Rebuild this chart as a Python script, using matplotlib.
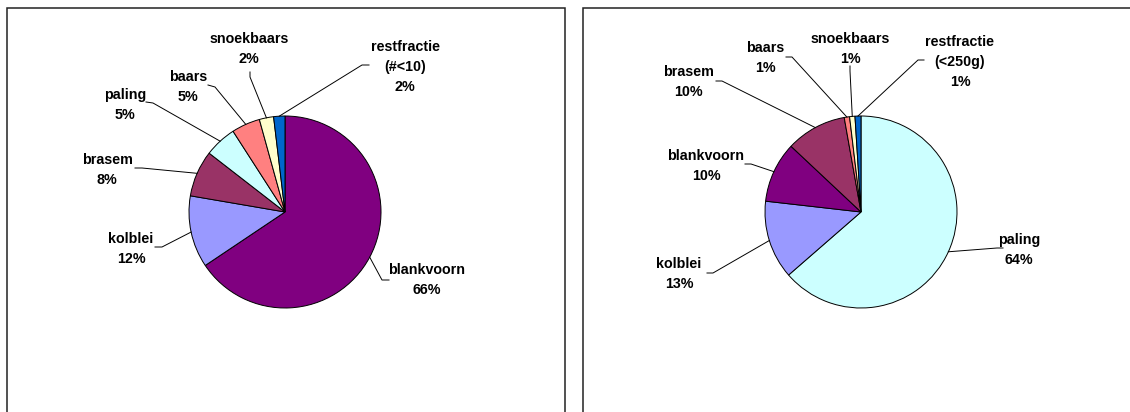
import numpy as np
import matplotlib
matplotlib.use("Agg")
import matplotlib.pyplot as plt
from matplotlib.patches import Rectangle

plt.rcParams['font.family'] = ['Liberation Sans', 'DejaVu Sans']

# linker diagram (aantallen)
soorten_links = ["blankvoorn", "kolblei", "brasem", "paling", "baars", "snoekbaars", "restfractie"]
waarden_links = [65.6, 12.1, 7.8, 5.4, 4.8, 2.4, 1.9]
rest_links = "(#<10)"

# rechter diagram (gewicht)
soorten_rechts = ["paling", "kolblei", "blankvoorn", "brasem", "baars", "snoekbaars", "restfractie"]
waarden_rechts = [63.6, 13.2, 10.2, 10.2, 0.9, 0.9, 1.0]
rest_rechts = "(<250g)"

kleuren = {
    "blankvoorn": "#800080",
    "kolblei": "#9999FF",
    "brasem": "#993366",
    "paling": "#CCFFFF",
    "baars": "#FF8080",
    "snoekbaars": "#FFFFCC",
    "restfractie": "#0066CC",
}

W, H = 1130, 412

# layout in pixels vanaf boven: tekstmidden, begin lijn, knik
lay_links = {
    "blankvoorn": ((427, 280), (389, 280), (382, 280)),
    "kolblei": ((131, 249), (155, 247), (162, 247)),
    "brasem": ((107, 170), (135, 168), (142, 168)),
    "paling": ((125, 105), (146, 102), (153, 103)),
    "baars": ((188, 87), (208, 85), (215, 87)),
    "snoekbaars": ((249, 49), (250, 72), (250, 77)),
    "restfractie": ((405, 67), (369, 65), (362, 65)),
}
lay_rechts = {
    "paling": ((1019, 250), (1003, 248), (997, 248)),
    "kolblei": ((679, 274), (707, 273), (713, 273)),
    "blankvoorn": ((706, 166), (745, 164), (751, 164)),
    "brasem": ((688, 82), (716, 81), (722, 81)),
    "baars": ((765, 58), (786, 57), (792, 57)),
    "snoekbaars": ((850, 49), (850, 66), (850, 71)),
    "restfractie": ((960, 62), (924, 60), (918, 60)),
}

fig = plt.figure(figsize=(W / 100, H / 100), dpi=100)
ax = fig.add_axes([0, 0, 1, 1])

# kaders
for x0, x1 in [(6.5, 564.5), (583, 1140)]:
    ax.add_patch(Rectangle((x0, -10), x1 - x0, H - 7.5 + 10, fill=False,
                           edgecolor="#222222", lw=1.1))


def taart(soorten, waarden, rest, lay, cx, cy):
    r = 96
    wedges, _ = ax.pie(waarden, colors=[kleuren[s] for s in soorten],
                       startangle=90, counterclock=False,
                       center=(cx, H - cy), radius=r, frame=True,
                       wedgeprops=dict(edgecolor="black", linewidth=0.7))
    for w, s, v in zip(wedges, soorten, waarden):
        naam = s if s != "restfractie" else s + "\n" + rest
        (tx, ty), (sx, sy), (kx, ky) = lay[s]
        ax.text(tx, H - ty, f"{naam}\n{v:.0f}%", ha="center", va="center",
                multialignment="center", fontsize=10.3, fontweight="bold",
                linespacing=1.55)
        hoek = np.deg2rad((w.theta1 + w.theta2) / 2)
        ex = w.center[0] + w.r * np.cos(hoek)
        ey = w.center[1] + w.r * np.sin(hoek)
        ax.plot([sx, kx, ex], [H - sy, H - ky, ey], color="black", lw=0.7)


taart(soorten_links, waarden_links, rest_links, lay_links, 285, 212)
taart(soorten_rechts, waarden_rechts, rest_rechts, lay_rechts, 861, 212)

ax.set_xlim(0, W)
ax.set_ylim(0, H)
ax.set_aspect("auto")
ax.axis("off")

fig.savefig("out.png", dpi=100)
